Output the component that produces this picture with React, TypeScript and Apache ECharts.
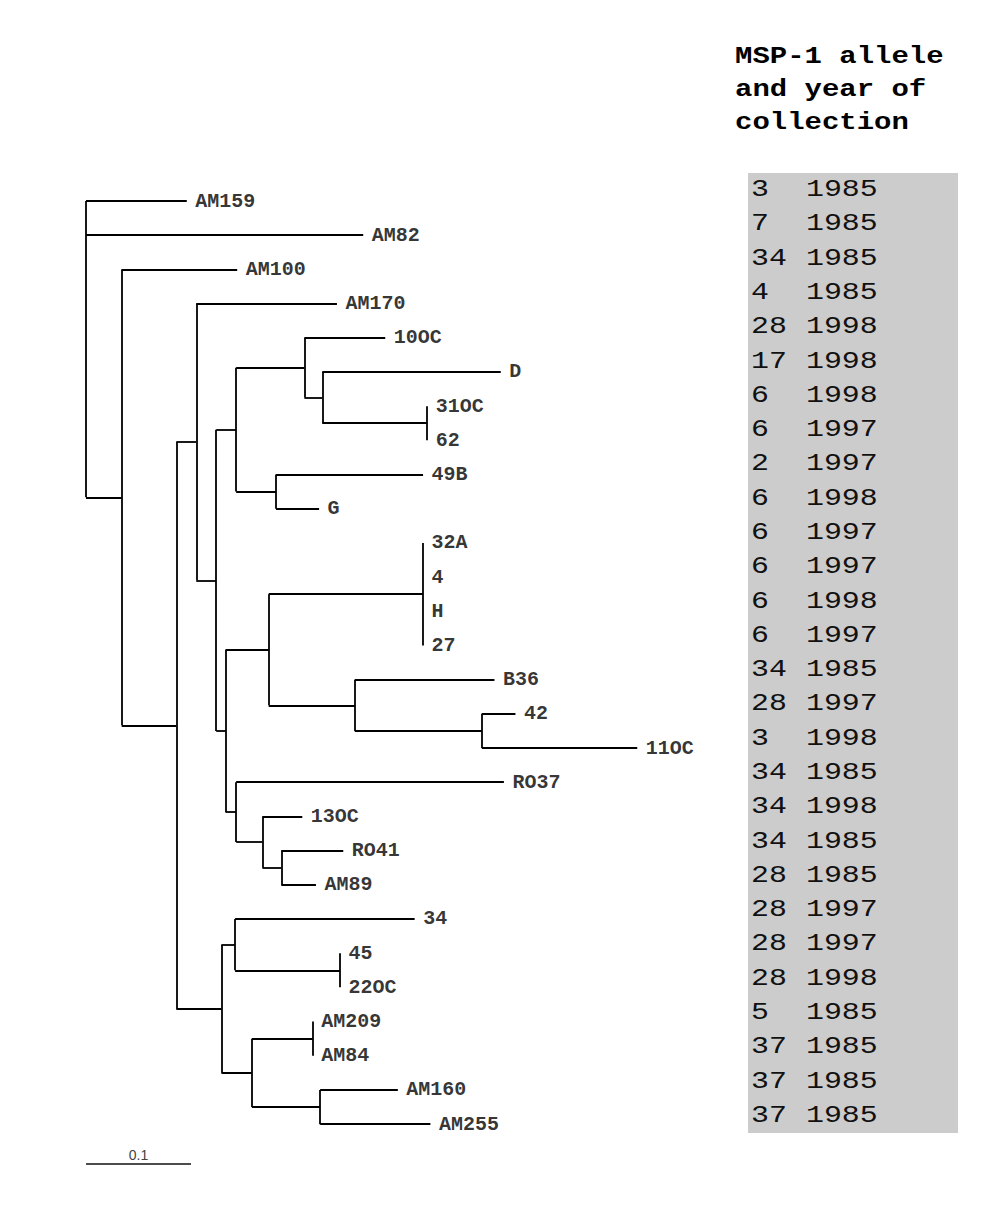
import React, { useEffect, useRef } from 'react';
import * as echarts from 'echarts';

// Leaves, top to bottom
const leafNames = ['AM159', 'AM82', 'AM100', 'AM170', '10OC', 'D', '31OC', '62', '49B', 'G', '32A', '4', 'H', '27', 'B36', '42', '11OC', 'RO37', '13OC', 'RO41', 'AM89', '34', '45', '22OC', 'AM209', 'AM84', 'AM160', 'AM255'];
const leafParents = ['R', 'R', 'n1', 'n3', 'n6', 'n7', 'n8', 'n8', 'n9', 'n9', 'n12', 'n12', 'n12', 'n12', 'n13', 'n14', 'n14', 'n15', 'n16', 'n17', 'n17', 'n19', 'n20', 'n20', 'n22', 'n22', 'n23', 'n23'];
const leafLengths = [0.096, 0.264, 0.110, 0.134, 0.077, 0.170, 0, 0, 0.140, 0.041, 0, 0, 0, 0, 0.133, 0.032, 0.148, 0.255, 0.038, 0.059, 0.033, 0.171, 0, 0, 0, 0, 0.074, 0.105];

// Internal nodes
const nodeIds = ['n1', 'n2', 'n3', 'n4', 'n5', 'n6', 'n7', 'n8', 'n9', 'n10', 'n11', 'n12', 'n13', 'n14', 'n15', 'n16', 'n17', 'n18', 'n19', 'n20', 'n21', 'n22', 'n23'];
const nodeParents = ['R', 'n1', 'n2', 'n3', 'n4', 'n5', 'n6', 'n7', 'n5', 'n4', 'n10', 'n11', 'n11', 'n13', 'n10', 'n15', 'n16', 'n2', 'n18', 'n19', 'n18', 'n21', 'n21'];
const nodeLengths = [0.034, 0.052, 0.019, 0.019, 0.019, 0.065, 0.017, 0.100, 0.038, 0.009, 0.041, 0.147, 0.082, 0.121, 0.010, 0.025, 0.018, 0.043, 0.013, 0.100, 0.029, 0.058, 0.065];

// MSP-1 allele and year of collection, per row
const alleles = [3, 7, 34, 4, 28, 17, 6, 6, 2, 6, 6, 6, 6, 6, 34, 28, 3, 34, 34, 34, 28, 28, 28, 28, 5, 37, 37, 37];
const years = [1985, 1985, 1985, 1985, 1998, 1998, 1998, 1997, 1997, 1998, 1997, 1997, 1998, 1997, 1985, 1997, 1998, 1985, 1998, 1985, 1985, 1997, 1997, 1998, 1985, 1985, 1985, 1985];

const scaleBarValue = 0.1;
const scaleBarLabel = '0.1';
const titleText = 'MSP-1 allele\nand year of\ncollection';

function buildTree() {
  const parent: Record<string, string> = {};
  const length: Record<string, number> = {};
  const children: Record<string, string[]> = { R: [] };
  const leafKey = (i: number) => 'leaf' + i;
  nodeIds.forEach((id, i) => {
    parent[id] = nodeParents[i];
    length[id] = nodeLengths[i];
    children[id] = children[id] || [];
  });
  nodeIds.forEach((id) => {
    (children[parent[id]] = children[parent[id]] || []).push(id);
  });
  leafNames.forEach((_, i) => {
    const k = leafKey(i);
    parent[k] = leafParents[i];
    length[k] = leafLengths[i];
    (children[leafParents[i]] = children[leafParents[i]] || []).push(k);
  });
  const X: Record<string, number> = {};
  const Y: Record<string, number> = {};
  const ext: Record<string, [number, number]> = {};
  const calcX = (id: string, px: number) => {
    X[id] = px + (id === 'R' ? 0 : length[id]);
    (children[id] || []).forEach((c) => calcX(c, X[id]));
  };
  calcX('R', 0);
  const calcY = (id: string): number => {
    if (id.startsWith('leaf')) {
      Y[id] = Number(id.slice(4));
      return Y[id];
    }
    const ys = children[id].map(calcY);
    const lo = Math.min(...ys);
    const hi = Math.max(...ys);
    ext[id] = [lo, hi];
    Y[id] = (lo + hi) / 2;
    return Y[id];
  };
  calcY('R');
  const segs: number[][][] = [];
  Object.keys(X).forEach((id) => {
    if (id !== 'R' && length[id] > 0) {
      segs.push([[X[parent[id]], Y[id]], [X[id], Y[id]]]);
    }
    if (ext[id]) {
      segs.push([[X[id], ext[id][0]], [X[id], ext[id][1]]]);
    }
  });
  const tips = leafNames.map((n, i) => ({ name: n, value: [X[leafKey(i)], i] }));
  return { segs, tips };
}

export default function App() {
  const ref = useRef<HTMLDivElement>(null);
  useEffect(() => {
    if (!ref.current) return;
    const chart = echarts.init(ref.current, null, { renderer: 'svg' });
    const { segs, tips } = buildTree();
    const rowPx = 34.19;
    const mono = 'Liberation Mono';
    const option: any = {
      animation: false,
      backgroundColor: '#ffffff',
      grid: [
        { left: 86, top: 201, width: 630, height: 29 * rowPx },
        { left: 748, top: 173, width: 210, height: 960, show: true, backgroundColor: '#cccccc', borderWidth: 0 },
      ],
      xAxis: [
        { type: 'value', gridIndex: 0, min: 0, max: 0.6, show: false },
        { type: 'value', gridIndex: 1, min: 0, max: 210, show: false },
      ],
      yAxis: [
        { type: 'value', gridIndex: 0, min: 0, max: 29, inverse: true, show: false },
        { type: 'value', gridIndex: 1, min: 0, max: 28, inverse: true, show: false },
      ],
      graphic: [
        {
          type: 'text',
          x: 735,
          y: 40,
          scaleX: 1.26,
          style: {
            text: titleText,
            fontFamily: mono,
            fontWeight: 'bold',
            fontSize: 23,
            lineHeight: 33,
            fill: '#000000',
          },
        },
      ],
      series: [
        {
          type: 'lines',
          coordinateSystem: 'cartesian2d',
          xAxisIndex: 0,
          yAxisIndex: 0,
          silent: true,
          lineStyle: { color: '#000000', width: 1.8, opacity: 1 },
          data: segs.map((c) => ({ coords: c })),
        },
        {
          type: 'scatter',
          xAxisIndex: 0,
          yAxisIndex: 0,
          silent: true,
          symbolSize: 1,
          itemStyle: { color: 'rgba(0,0,0,0)' },
          label: {
            show: true,
            position: 'right',
            distance: 8,
            formatter: '{b}',
            color: '#000000',
            fontFamily: mono,
            fontWeight: 'bold',
            fontSize: 20,
          },
          data: tips,
        },
        {
          type: 'lines',
          coordinateSystem: 'cartesian2d',
          xAxisIndex: 0,
          yAxisIndex: 0,
          silent: true,
          lineStyle: { color: '#111111', width: 1.6, opacity: 1 },
          label: {
            show: true,
            position: 'middle',
            formatter: scaleBarLabel,
            color: '#444444',
            fontFamily: 'Liberation Sans',
            fontSize: 14,
            distance: 1,
          },
          data: [{ coords: [[0, 28.15], [scaleBarValue, 28.15]] }],
        },
        {
          type: 'custom',
          xAxisIndex: 1,
          yAxisIndex: 1,
          silent: true,
          data: alleles.map((a, i) => [i + 0.5, a, years[i]]),
          renderItem: (params: any, api: any) => {
            const y = api.coord([0, api.value(0)])[1];
            const xa = api.coord([3, 0])[0];
            const xy = api.coord([58, 0])[0];
            const st = { fontFamily: mono, fontSize: 23, fill: '#111111', verticalAlign: 'middle' };
            return {
              type: 'group',
              children: [
                { type: 'text', x: xa, y, scaleX: 1.3, style: { ...st, text: String(api.value(1)) } },
                { type: 'text', x: xy, y, scaleX: 1.3, style: { ...st, text: String(api.value(2)) } },
              ],
            };
          },
        },
      ],
    };
    chart.setOption(option);
    return () => chart.dispose();
  }, []);
  return <div ref={ref} style={{ position: 'absolute', left: 0, top: 0, width: 1000, height: 1213 }} />;
}
